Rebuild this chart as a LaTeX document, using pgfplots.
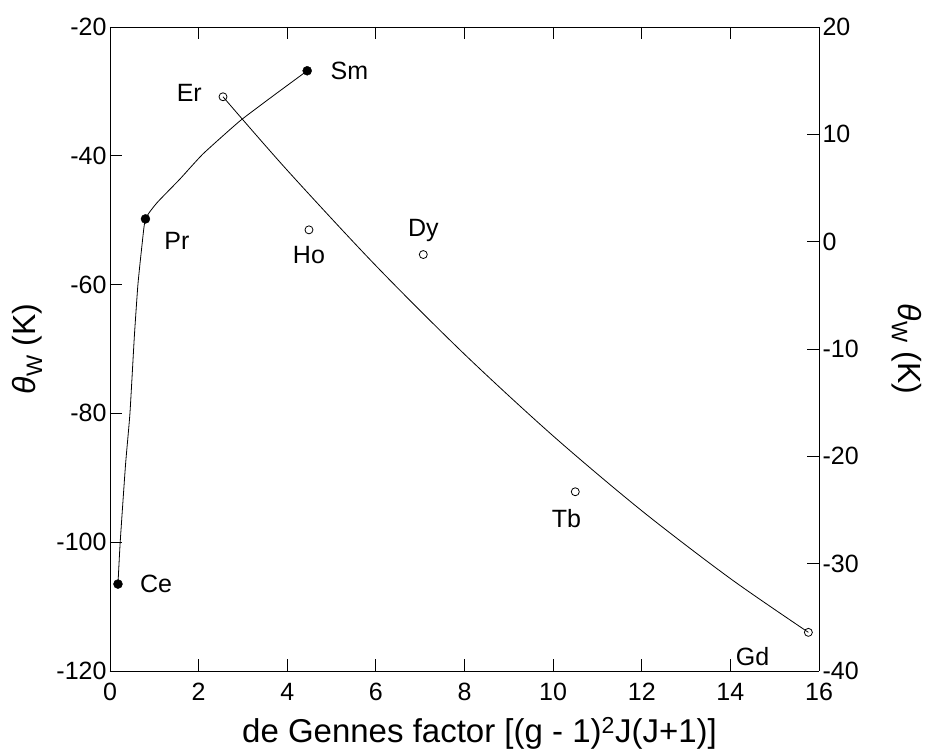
\documentclass[border=0pt]{standalone}
\usepackage{fontspec}
\setmainfont{Liberation Sans}
\usepackage{pgfplots}
\pgfplotsset{compat=1.18}
\newcommand{\thw}{\textit{θ}\textsubscript{W} (K)}
\newcommand{\lbl}{\fontsize{25bp}{29bp}\selectfont}
\pgfplotsset{
  myax/.style={
    at={(0,0)}, anchor=south west, scale only axis,
    width=709bp, height=644bp, xmin=0, xmax=16,
    tick align=inside, major tick length=12bp,
    tick label style={font=\lbl},
    /pgf/number format/assume math mode=true,
    axis line style={line width=0.8bp}, tick style={line width=0.8bp, black},
    label style={font=\fontsize{32bp}{36bp}\selectfont},
  }
}
\begin{document}
\begin{tikzpicture}[x=1bp,y=1bp]
\path[use as bounding box] (-110,-79) rectangle (818,671);
\begin{axis}[myax, ymin=-120, ymax=-20,
  axis y line*=left,
  xtick={0,2,...,16}, ytick={-120,-100,...,-20},
  xticklabel style={yshift=-9bp},
  xlabel={de Gennes factor [(g - 1)\textsuperscript{2}J(J+1)]},
  ylabel={\thw},
  xlabel style={at={([xshift=15bp,yshift=-62bp]axis description cs:0.5,0)}, anchor=center,
    font=\fontsize{33bp}{37bp}\selectfont},
  ylabel style={at={([xshift=-83bp]axis description cs:0,0.5)}, anchor=center}]
% fitted curve, filled symbols
\addplot[black, line width=0.8bp, smooth, tension=0.3] coordinates {
  (0.18,-106.5) (0.23,-100) (0.35,-88) (0.45,-80) (0.55,-68) (0.63,-60)
  (0.72,-54) (0.80,-49.8) (1.06,-47.3) (1.58,-43.6)
  (2.10,-39.7) (2.93,-34.6) (3.70,-30.6) (4.45,-26.8)};
\addplot[only marks, mark=*, mark size=4.5bp, black] coordinates {
  (0.18,-106.5) (0.80,-49.8) (4.45,-26.8)};
\node[anchor=west, font=\lbl] at (axis cs:0.6,-106.5) {Ce};
\node[anchor=west, font=\lbl] at (axis cs:1.15,-53.2) {Pr};
\node[anchor=west, font=\lbl] at (axis cs:4.9,-26.8) {Sm};
\end{axis}
\begin{axis}[myax, ymin=-40, ymax=20,
  axis y line*=right, axis x line=none,
  ytick={-40,-30,...,20},
  ylabel={\thw},
  ylabel style={at={([xshift=88bp]axis description cs:1,0.5)}, anchor=center, rotate=180}]
% fitted curve, open symbols
\addplot[black, line width=0.8bp, smooth] coordinates {
  (2.55,13.5) (4,6.65) (6,-2.24) (8,-10.49) (10,-18.10)
  (12,-25.07) (14,-31.39) (15.76,-36.4)};
\addplot[only marks, mark=o, mark size=4bp, black, fill=white, mark options={line width=0.8bp}] coordinates {
  (2.55,13.5) (4.49,1.1) (7.07,-1.2) (10.5,-23.3) (15.76,-36.4)};
\node[anchor=east, font=\lbl] at (axis cs:2.15,13.9) {Er};
\node[anchor=north, font=\lbl] at (axis cs:4.49,-0.1) {Ho};
\node[anchor=south, font=\lbl] at (axis cs:7.07,-0.3) {Dy};
\node[anchor=north, font=\lbl] at (axis cs:10.3,-24.6) {Tb};
\node[font=\lbl] at (axis cs:14.5,-38.7) {Gd};
\end{axis}
\end{tikzpicture}
\end{document}
